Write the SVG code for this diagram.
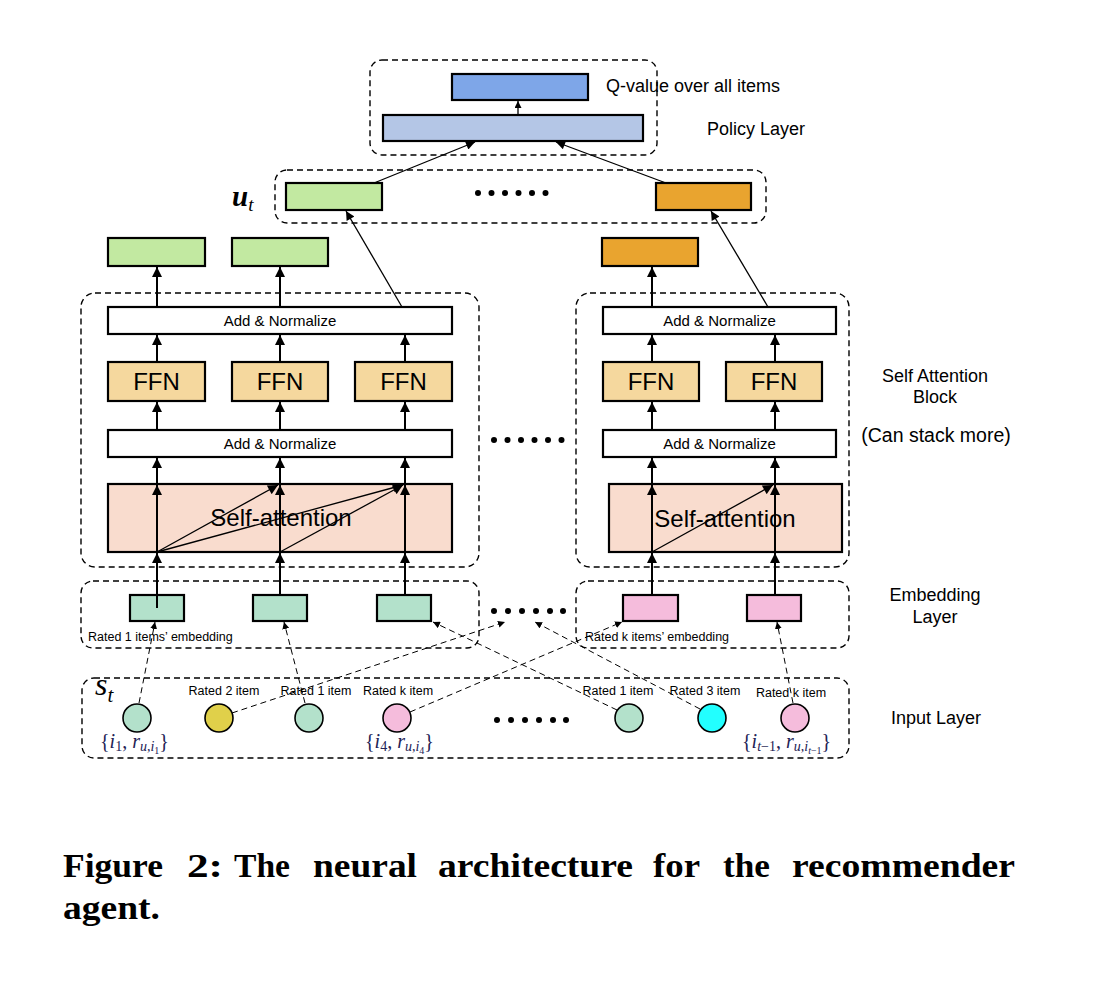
<svg xmlns="http://www.w3.org/2000/svg" width="1102" height="994" viewBox="0 0 1102 994">
<defs>
<marker id="ah" viewBox="0 0 10 10" refX="10" refY="5" markerWidth="7" markerHeight="7" markerUnits="userSpaceOnUse" orient="auto">
<path d="M0,0 L10,5 L0,10 z" fill="#000"/>
</marker>
<marker id="ahs" viewBox="0 0 10 10" refX="10" refY="5" markerWidth="11" markerHeight="9" markerUnits="userSpaceOnUse" orient="auto">
<path d="M0,0 L10,5 L0,10 z" fill="#000"/>
</marker>
<marker id="ahl" viewBox="0 0 10 10" refX="10" refY="5" markerWidth="12" markerHeight="10" markerUnits="userSpaceOnUse" orient="auto">
<path d="M0,0 L10,5 L0,10 z" fill="#000"/>
</marker>
</defs>
<style>
.dash{fill:none;stroke:#000;stroke-width:1.4;stroke-dasharray:6 4}
.box{stroke:#000;stroke-width:2.2}
.t{font-family:"Liberation Sans",Arial,sans-serif;fill:#000}
.m{font-family:"Liberation Serif","Times New Roman",serif;font-style:italic;fill:#222255}
.ln{stroke:#000;stroke-width:2;fill:none}
.thin{stroke:#000;stroke-width:1.3;fill:none}
.dl{stroke:#000;stroke-width:1;stroke-dasharray:6 4;fill:none}
.circ{stroke:#000;stroke-width:1.6}
.dot{fill:#000}
.cap{font-family:"Liberation Serif","Times New Roman",serif;font-weight:bold;font-size:33px;fill:#000}
</style>
<rect width="1102" height="994" fill="#fff"/>

<!-- containers -->
<g id="containers">
<rect class="dash" x="370" y="60" width="287" height="95" rx="12"/>
<rect class="dash" x="275" y="170" width="491" height="53" rx="12"/>
<rect class="dash" x="81" y="293" width="398" height="274" rx="14"/>
<rect class="dash" x="576" y="293" width="273" height="274" rx="14"/>
<rect class="dash" x="81" y="581" width="398" height="67" rx="12"/>
<rect class="dash" x="576" y="581" width="273" height="67" rx="12"/>
<rect class="dash" x="82" y="678" width="767" height="80" rx="12"/>
</g>

<!-- top -->
<g id="qvalue"><rect class="box" x="452" y="74" width="136" height="26" fill="#7ea6e8"/></g>
<g id="policy"><rect class="box" x="383" y="115" width="260" height="26" fill="#b4c6e6"/></g>
<g id="ut-green"><rect class="box" x="286" y="183" width="96" height="27" fill="#c2e9a1"/></g>
<g id="ut-orange"><rect class="box" x="656" y="183" width="95" height="27" fill="#e9a42f"/></g>

<!-- output boxes -->
<g id="out1"><rect class="box" x="108" y="238" width="97" height="28" fill="#c2e9a1"/></g>
<g id="out2"><rect class="box" x="232" y="238" width="96" height="28" fill="#c2e9a1"/></g>
<g id="out3"><rect class="box" x="602" y="238" width="96" height="28" fill="#e9a42f"/></g>

<!-- left block -->
<g id="an-top-l"><rect class="box" x="108" y="307" width="344" height="27" fill="#fff"/>
<text class="t" x="280" y="326" font-size="15" text-anchor="middle">Add &amp; Normalize</text></g>
<g id="ffn-l1"><rect class="box" x="108" y="362" width="97" height="39" fill="#f5d89e"/>
<text class="t" x="156.5" y="390" font-size="24" text-anchor="middle">FFN</text></g>
<g id="ffn-l2"><rect class="box" x="232" y="362" width="96" height="39" fill="#f5d89e"/>
<text class="t" x="280" y="390" font-size="24" text-anchor="middle">FFN</text></g>
<g id="ffn-l3"><rect class="box" x="355" y="362" width="97" height="39" fill="#f5d89e"/>
<text class="t" x="403.5" y="390" font-size="24" text-anchor="middle">FFN</text></g>
<g id="an-bot-l"><rect class="box" x="108" y="430" width="344" height="27" fill="#fff"/>
<text class="t" x="280" y="449" font-size="15" text-anchor="middle">Add &amp; Normalize</text></g>
<g id="sa-l"><rect class="box" x="108" y="484" width="344" height="68" fill="#f9dcce"/>
<text class="t" x="281" y="526" font-size="24" text-anchor="middle">Self-attention</text></g>

<!-- right block -->
<g id="an-top-r"><rect class="box" x="603" y="307" width="233" height="27" fill="#fff"/>
<text class="t" x="719.5" y="326" font-size="15" text-anchor="middle">Add &amp; Normalize</text></g>
<g id="ffn-r1"><rect class="box" x="603" y="362" width="96" height="39" fill="#f5d89e"/>
<text class="t" x="651" y="390" font-size="24" text-anchor="middle">FFN</text></g>
<g id="ffn-r2"><rect class="box" x="726" y="362" width="96" height="39" fill="#f5d89e"/>
<text class="t" x="774" y="390" font-size="24" text-anchor="middle">FFN</text></g>
<g id="an-bot-r"><rect class="box" x="603" y="430" width="233" height="27" fill="#fff"/>
<text class="t" x="719.5" y="449" font-size="15" text-anchor="middle">Add &amp; Normalize</text></g>
<g id="sa-r"><rect class="box" x="609" y="484" width="233" height="68" fill="#f9dcce"/>
<text class="t" x="725" y="527" font-size="24" text-anchor="middle">Self-attention</text></g>

<!-- embeddings -->
<g id="emb1"><rect class="box" x="130" y="595" width="54" height="26" fill="#b3e1cb"/></g>
<g id="emb2"><rect class="box" x="253" y="595" width="54" height="26" fill="#b3e1cb"/></g>
<g id="emb3"><rect class="box" x="377" y="595" width="54" height="26" fill="#b3e1cb"/></g>
<g id="emb4"><rect class="box" x="623" y="595" width="55" height="26" fill="#f5bcdc"/></g>
<g id="emb5"><rect class="box" x="747" y="595" width="54" height="26" fill="#f5bcdc"/></g>

<!-- input circles -->
<g id="in1"><circle class="circ" cx="137" cy="718" r="14" fill="#b3e1cb"/></g>
<g id="in2"><circle class="circ" cx="219" cy="718" r="14" fill="#e0d04a"/></g>
<g id="in3"><circle class="circ" cx="309" cy="718" r="14" fill="#b3e1cb"/></g>
<g id="in4"><circle class="circ" cx="397" cy="718" r="14" fill="#f5bcdc"/></g>
<g id="in5"><circle class="circ" cx="629" cy="718" r="14" fill="#b3e1cb"/></g>
<g id="in6"><circle class="circ" cx="712" cy="718" r="14" fill="#22ffff"/></g>
<g id="in7"><circle class="circ" cx="795" cy="718" r="14" fill="#f5bcdc"/></g>

<!-- connectors -->
<g id="connectors">
<line class="thin" x1="518" y1="115" x2="518" y2="101" marker-end="url(#ah)"/>
<line class="thin" x1="374" y1="183" x2="475" y2="142" marker-end="url(#ahs)"/>
<line class="thin" x1="666" y1="183" x2="556" y2="142" marker-end="url(#ahs)"/>
<line class="thin" x1="402" y1="307" x2="346" y2="211" marker-end="url(#ahs)"/>
<line class="thin" x1="768" y1="307" x2="711" y2="211" marker-end="url(#ahs)"/>

<line class="ln" x1="157" y1="307" x2="157" y2="267" marker-end="url(#ahl)"/>
<line class="ln" x1="280" y1="307" x2="280" y2="267" marker-end="url(#ahl)"/>
<line class="ln" x1="652" y1="307" x2="652" y2="267" marker-end="url(#ahl)"/>

<line class="ln" x1="157" y1="362" x2="157" y2="335" marker-end="url(#ahl)"/>
<line class="ln" x1="280" y1="362" x2="280" y2="335" marker-end="url(#ahl)"/>
<line class="ln" x1="405" y1="362" x2="405" y2="335" marker-end="url(#ahl)"/>
<line class="ln" x1="652" y1="362" x2="652" y2="335" marker-end="url(#ahl)"/>
<line class="ln" x1="775" y1="362" x2="775" y2="335" marker-end="url(#ahl)"/>

<line class="ln" x1="157" y1="430" x2="157" y2="402" marker-end="url(#ahl)"/>
<line class="ln" x1="280" y1="430" x2="280" y2="402" marker-end="url(#ahl)"/>
<line class="ln" x1="405" y1="430" x2="405" y2="402" marker-end="url(#ahl)"/>
<line class="ln" x1="652" y1="430" x2="652" y2="402" marker-end="url(#ahl)"/>
<line class="ln" x1="775" y1="430" x2="775" y2="402" marker-end="url(#ahl)"/>

<line class="ln" x1="157" y1="484" x2="157" y2="458" marker-end="url(#ahl)"/>
<line class="ln" x1="280" y1="484" x2="280" y2="458" marker-end="url(#ahl)"/>
<line class="ln" x1="405" y1="484" x2="405" y2="458" marker-end="url(#ahl)"/>
<line class="ln" x1="652" y1="484" x2="652" y2="458" marker-end="url(#ahl)"/>
<line class="ln" x1="775" y1="484" x2="775" y2="458" marker-end="url(#ahl)"/>

<line class="ln" x1="157" y1="552" x2="157" y2="485" marker-end="url(#ahl)"/>
<line class="ln" x1="280" y1="552" x2="280" y2="485" marker-end="url(#ahl)"/>
<line class="ln" x1="405" y1="552" x2="405" y2="485" marker-end="url(#ahl)"/>
<line class="ln" x1="652" y1="552" x2="652" y2="485" marker-end="url(#ahl)"/>
<line class="ln" x1="775" y1="552" x2="775" y2="485" marker-end="url(#ahl)"/>
<line class="thin" x1="157" y1="552" x2="278" y2="485" marker-end="url(#ahl)"/>
<line class="thin" x1="157" y1="552" x2="403" y2="485" marker-end="url(#ahl)"/>
<line class="thin" x1="280" y1="552" x2="403" y2="485" marker-end="url(#ahl)"/>
<line class="thin" x1="652" y1="552" x2="773" y2="485" marker-end="url(#ahl)"/>

<line class="ln" x1="157" y1="595" x2="157" y2="553" marker-end="url(#ahl)"/>
<line class="ln" x1="157" y1="596" x2="157" y2="608"/>
<line class="ln" x1="280" y1="595" x2="280" y2="553" marker-end="url(#ahl)"/>
<line class="ln" x1="405" y1="595" x2="405" y2="553" marker-end="url(#ahl)"/>
<line class="ln" x1="652" y1="595" x2="652" y2="553" marker-end="url(#ahl)"/>
<line class="ln" x1="775" y1="595" x2="775" y2="553" marker-end="url(#ahl)"/>

<line class="dl" x1="139" y1="703" x2="155" y2="622" marker-end="url(#ah)"/>
<line class="dl" x1="305" y1="703" x2="284" y2="622" marker-end="url(#ah)"/>
<line class="dl" x1="232" y1="713" x2="505" y2="622" marker-end="url(#ah)"/>
<line class="dl" x1="410" y1="712" x2="622" y2="622" marker-end="url(#ah)"/>
<line class="dl" x1="617" y1="710" x2="433" y2="622" marker-end="url(#ah)"/>
<line class="dl" x1="700" y1="709" x2="535" y2="622" marker-end="url(#ah)"/>
<line class="dl" x1="793" y1="703" x2="777" y2="622" marker-end="url(#ah)"/>
</g>

<!-- ellipsis dots -->
<g id="dots">
<g class="dot">
<circle cx="478" cy="193" r="3"/><circle cx="491.5" cy="193" r="3"/><circle cx="505" cy="193" r="3"/><circle cx="518.5" cy="193" r="3"/><circle cx="532" cy="193" r="3"/><circle cx="545.5" cy="193" r="3"/>
<circle cx="494" cy="440" r="3"/><circle cx="507.5" cy="440" r="3"/><circle cx="521" cy="440" r="3"/><circle cx="534.5" cy="440" r="3"/><circle cx="548" cy="440" r="3"/><circle cx="561.5" cy="440" r="3"/>
<circle cx="494" cy="611" r="3"/><circle cx="508" cy="611" r="3"/><circle cx="522" cy="611" r="3"/><circle cx="536" cy="611" r="3"/><circle cx="550" cy="611" r="3"/><circle cx="563" cy="611" r="3"/>
<circle cx="497" cy="720" r="3"/><circle cx="511" cy="720" r="3"/><circle cx="525" cy="720" r="3"/><circle cx="539" cy="720" r="3"/><circle cx="553" cy="720" r="3"/><circle cx="566" cy="720" r="3"/>
</g>
</g>

<!-- labels -->
<g id="labels">
<text class="t" x="606" y="92" font-size="18">Q-value over all items</text>
<text class="t" x="707" y="135" font-size="18">Policy Layer</text>
<text x="232" y="206" font-family="Liberation Serif,serif" font-style="italic" font-weight="bold" font-size="29" fill="#000">u<tspan font-size="19" dy="5" font-weight="normal">t</tspan></text>
<text class="t" x="935" y="382" font-size="18" text-anchor="middle">Self Attention</text>
<text class="t" x="935" y="403" font-size="18" text-anchor="middle">Block</text>
<text class="t" x="936" y="442" font-size="19.5" text-anchor="middle">(Can stack more)</text>
<text class="t" x="935" y="601" font-size="18" text-anchor="middle">Embedding</text>
<text class="t" x="935" y="623" font-size="18" text-anchor="middle">Layer</text>
<text class="t" x="936" y="724" font-size="18" text-anchor="middle">Input Layer</text>
<text class="t" x="88" y="641" font-size="12.5">Rated 1 items’ embedding</text>
<text class="t" x="585" y="641" font-size="12.5">Rated k items’ embedding</text>
<text x="95" y="695" font-family="Liberation Serif,serif" font-style="italic" font-size="32" fill="#000">s<tspan font-size="21" dy="7">t</tspan></text>
<text class="t" x="224" y="695" font-size="12.5" text-anchor="middle">Rated 2 item</text>
<text class="t" x="316" y="695" font-size="12.5" text-anchor="middle">Rated 1 item</text>
<text class="t" x="398" y="695" font-size="12.5" text-anchor="middle">Rated k item</text>
<text class="t" x="618" y="695" font-size="12.5" text-anchor="middle">Rated 1 item</text>
<text class="t" x="705" y="695" font-size="12.5" text-anchor="middle">Rated 3 item</text>
<text class="t" x="791" y="697" font-size="12.5" text-anchor="middle">Rated k item</text>
<text class="m" x="100" y="748" font-size="20"><tspan font-style="normal">{</tspan>i<tspan font-size="14" dy="3" font-style="normal">1</tspan><tspan dy="-3" font-style="normal">, </tspan>r<tspan font-size="14" dy="3">u</tspan><tspan font-size="14" font-style="normal">,</tspan><tspan font-size="14">i</tspan><tspan font-size="10" dy="3" font-style="normal">1</tspan><tspan dy="-6" font-style="normal">}</tspan></text>
<text class="m" x="365" y="748" font-size="20"><tspan font-style="normal">{</tspan>i<tspan font-size="14" dy="3" font-style="normal">4</tspan><tspan dy="-3" font-style="normal">, </tspan>r<tspan font-size="14" dy="3">u</tspan><tspan font-size="14" font-style="normal">,</tspan><tspan font-size="14">i</tspan><tspan font-size="10" dy="3" font-style="normal">4</tspan><tspan dy="-6" font-style="normal">}</tspan></text>
<text class="m" x="742" y="748" font-size="20"><tspan font-style="normal">{</tspan>i<tspan font-size="14" dy="3">t</tspan><tspan font-size="14" font-style="normal">−1</tspan><tspan dy="-3" font-style="normal">, </tspan>r<tspan font-size="14" dy="3">u</tspan><tspan font-size="14" font-style="normal">,</tspan><tspan font-size="14">i</tspan><tspan font-size="10" dy="3">t</tspan><tspan font-size="10" font-style="normal">−1</tspan><tspan dy="-6" font-style="normal">}</tspan></text>
</g>

<g id="caption">
<text class="cap" y="877"><tspan x="63" textLength="100" lengthAdjust="spacingAndGlyphs">Figure</tspan><tspan x="187" textLength="36" lengthAdjust="spacingAndGlyphs">2:</tspan><tspan x="234" textLength="56" lengthAdjust="spacingAndGlyphs">The</tspan><tspan x="313" textLength="104" lengthAdjust="spacingAndGlyphs">neural</tspan><tspan x="438" textLength="195" lengthAdjust="spacingAndGlyphs">architecture</tspan><tspan x="653" textLength="47" lengthAdjust="spacingAndGlyphs">for</tspan><tspan x="723" textLength="47" lengthAdjust="spacingAndGlyphs">the</tspan><tspan x="792" textLength="223" lengthAdjust="spacingAndGlyphs">recommender</tspan></text>
<text class="cap" x="63" y="919" textLength="97" lengthAdjust="spacingAndGlyphs">agent.</text>
</g>
</svg>
